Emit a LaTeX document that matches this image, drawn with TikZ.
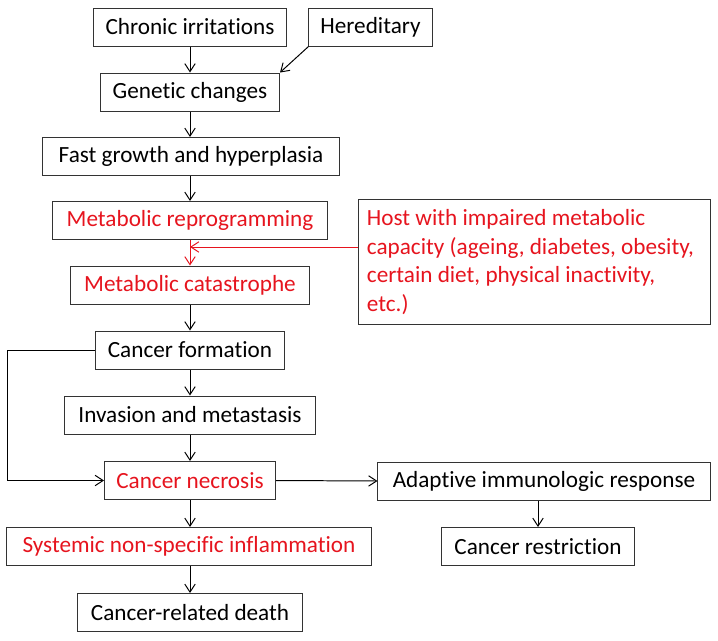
\documentclass[tikz,border=0pt]{standalone}
\usepackage{fontspec}
\setmainfont{Carlito}[Ligatures=NoCommon]
\usepackage{xcolor}
\usetikzlibrary{arrows.meta}
\definecolor{hostred}{RGB}{230,20,30}

\begin{document}
\begin{tikzpicture}[x=0.025cm, y=-0.025cm,
    box/.style = {draw=black!80, line width=0.7pt, minimum height=0.95cm, inner sep=0pt,
                  font=\fontsize{16.5}{20.2}\selectfont},
    redbox/.style = {box, text=hostred},
    arr/.style = {-{Straight Barb[length=2mm,width=2.6mm]}, line width=0.7pt}]
    \useasboundingbox (0,0) rectangle (718,640);
    % Draw the main chain of boxes
    \node[box, minimum width=4.825cm] (chronic) at (190,27) {Chronic irritations};
    \node[box, minimum width=3.075cm] (hered) at (370.5,27) {Hereditary};
    \node[box, minimum width=4.475cm] (genetic) at (190,92) {Genetic changes};
    \node[box, minimum width=7.4cm] (fast) at (191,156.5) {Fast growth and hyperplasia};
    \node[redbox, minimum width=6.85cm] (reprog) at (190,220.5) {Metabolic reprogramming};
    \node[redbox, minimum width=5.95cm] (catas) at (190,285) {Metabolic catastrophe};
    \node[box, minimum width=4.725cm] (formation) at (190,350) {Cancer formation};
    \node[box, minimum width=6.275cm] (invasion) at (190,415) {Invasion and metastasis};
    \node[redbox, minimum width=4.275cm] (necrosis) at (190,480.5) {Cancer necrosis};
    \node[redbox, minimum width=9.1cm] (systemic) at (189,546.5) {Systemic non-specific inflammation};
    \node[box, minimum width=5.625cm] (death) at (190,612.5) {Cancer-related death};
    % Draw the side boxes
    \node[redbox, minimum width=8.775cm, minimum height=3.1cm, inner xsep=0.2cm,
          text width=8.375cm, align=flush left] (host) at (534.5,262)
          {Host with impaired metabolic\\capacity (ageing, diabetes, obesity,\\certain diet, physical inactivity,\\etc.)};
    \node[box, minimum width=8.3cm] (adaptive) at (544,481) {Adaptive immunologic response};
    \node[box, minimum width=4.8cm] (restriction) at (538,546.5) {Cancer restriction};
    % Draw the arrows
    \draw[arr] (chronic) -- (genetic);
    \draw[arr] (hered.south west) -- (genetic.north east);
    \draw[arr] (genetic) -- (genetic |- fast.north);
    \draw[arr] (genetic |- fast.south) -- (reprog);
    \draw[arr, hostred] (reprog) -- (catas);
    \coordinate (join) at (190,247);
    \draw[arr, hostred] (host.west |- join) -- (join);
    \draw[arr] (catas) -- (formation);
    \draw[arr] (formation) -- (invasion);
    \draw[arr] (invasion) -- (necrosis);
    \draw[arr] (necrosis) -- (necrosis |- systemic.north);
    \draw[arr] (necrosis |- systemic.south) -- (death);
    % Draw the loop round the left side
    \coordinate (loop) at (7,350);
    \draw[arr] (formation.west) -- (loop) |- (necrosis.west);
    \draw[arr] (necrosis.east) -- (adaptive.west);
    \draw[arr] (restriction.north |- adaptive.south) -- (restriction.north);
\end{tikzpicture}
\end{document}
